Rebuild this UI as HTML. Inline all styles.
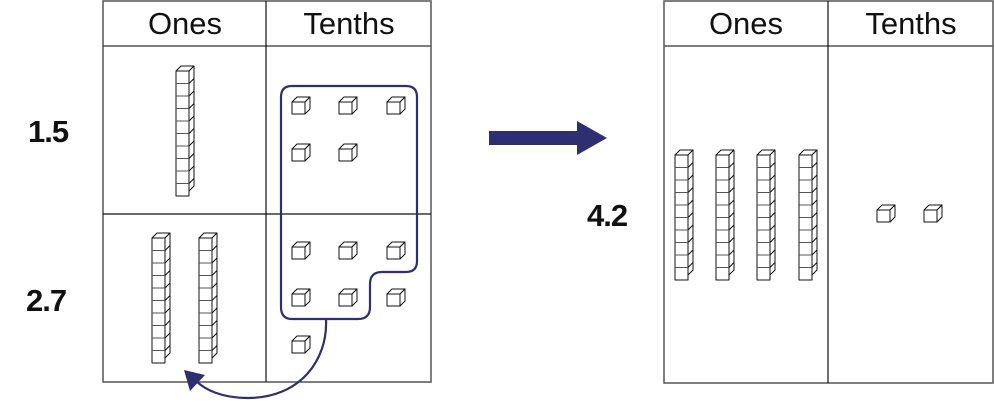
<!DOCTYPE html>
<html><head><style>body{margin:0;background:#fff}svg{display:block}</style></head><body>
<svg width="994" height="402" viewBox="0 0 994 402" xmlns="http://www.w3.org/2000/svg">
<defs>
<g id="cube" fill="#fff" stroke="#111" stroke-width="1" stroke-linejoin="round">
<path d="M0 5 L5 0 L18 0 L13 5 Z"/><path d="M13 5 L18 0 L18 12 L13 17 Z"/><rect x="0" y="5" width="13" height="12"/>
</g>
<g id="rod" fill="#fff" stroke="#111" stroke-width="1" stroke-linejoin="round">
<path d="M0 5 L5 0 L18 0 L13 5 Z"/><path d="M13 5 L18 0 L18 120 L13 125 Z"/><rect x="0" y="5" width="13" height="125"/>
<path d="M0 17.5H13M0 30H13M0 42.5H13M0 55H13M0 67.5H13M0 80H13M0 92.5H13M0 105H13M0 117.5H13" stroke="#555"/>
<path d="M13 17.5L18 12.5M13 30L18 25M13 42.5L18 37.5M13 55L18 50M13 67.5L18 62.5M13 80L18 75M13 92.5L18 87.5M13 105L18 100M13 117.5L18 112.5"/>
</g>
</defs>
<g fill="none" stroke="#555" stroke-width="1.5">
<rect x="103" y="1" width="328" height="381"/><line x1="103" y1="46" x2="431" y2="46"/>
<rect x="664" y="1" width="329" height="382"/><line x1="664" y1="46" x2="993" y2="46"/>
</g>
<g stroke="#111" stroke-width="1.2">
<line x1="266" y1="1" x2="266" y2="382"/><line x1="103" y1="214" x2="431" y2="214"/>
<line x1="828" y1="1" x2="828" y2="383"/>
</g>
<g font-family="Liberation Sans, sans-serif" font-size="31" fill="#111" text-anchor="middle">
<text x="185" y="34">Ones</text><text x="349" y="34">Tenths</text>
<text x="746" y="34">Ones</text><text x="911" y="34">Tenths</text>
</g>
<g font-family="Liberation Sans, sans-serif" font-size="31" font-weight="bold" fill="#111" letter-spacing="-1">
<text x="28" y="142">1.5</text><text x="26" y="311">2.7</text><text x="587" y="226">4.2</text>
</g>
<use href="#rod" x="176" y="66"/>
<use href="#rod" x="152" y="233"/><use href="#rod" x="199" y="233"/>
<use href="#rod" x="675" y="150"/><use href="#rod" x="716" y="150"/><use href="#rod" x="757" y="150"/><use href="#rod" x="799" y="150"/>
<use href="#cube" x="292" y="97"/><use href="#cube" x="339" y="97"/><use href="#cube" x="387" y="97"/>
<use href="#cube" x="292" y="144"/><use href="#cube" x="339" y="144"/>
<use href="#cube" x="292" y="242"/><use href="#cube" x="339" y="242"/><use href="#cube" x="387" y="242"/>
<use href="#cube" x="292" y="289"/><use href="#cube" x="339" y="289"/><use href="#cube" x="387" y="289"/>
<use href="#cube" x="292" y="336"/>
<use href="#cube" x="877" y="205"/><use href="#cube" x="924" y="205"/>
<g fill="none" stroke="#2e2e72" stroke-width="2.2">
<path d="M292 86 H406 Q417 86 417 97 V261 Q417 272 406 272 H382 Q370 272 370 284 V307 Q370 319 358 319 H292 Q281 319 281 307 V97 Q281 86 292 86 Z"/>
<path d="M326 319 C328 360 300 398 248 398 C222 398 205 390 195 380"/>
</g>
<path d="M184 370 L205 375 L190 391 Z" fill="#2e2e72"/>
<path d="M489 131 H577 V121 L607 138 L577 155 V145 H489 Z" fill="#2e2e72"/>
</svg>
</body></html>
